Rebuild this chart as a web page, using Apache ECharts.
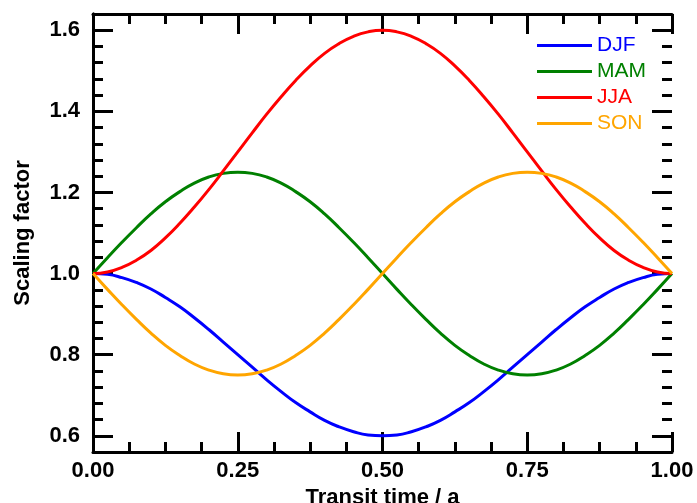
<!DOCTYPE html>
<html>
<head>
<meta charset="utf-8">
<script src="https://cdn.jsdelivr.net/npm/echarts@6/dist/echarts.min.js"></script>
<style>
  html, body { margin: 0; padding: 0; background: #fff; }
  #chart-container { width: 697px; height: 503px; }
</style>
</head>
<body>
<div id="chart-container"></div>
<script>
// transit time (a), read every 0.025
var transitTime = [0.000, 0.025, 0.050, 0.075, 0.100, 0.125, 0.150, 0.175, 0.200, 0.225,
                   0.250, 0.275, 0.300, 0.325, 0.350, 0.375, 0.400, 0.425, 0.450, 0.475,
                   0.500, 0.525, 0.550, 0.575, 0.600, 0.625, 0.650, 0.675, 0.700, 0.725,
                   0.750, 0.775, 0.800, 0.825, 0.850, 0.875, 0.900, 0.925, 0.950, 0.975, 1.000];
var djf = [1.000, 0.998, 0.990, 0.978, 0.962, 0.941, 0.918, 0.891, 0.862, 0.831,
           0.800, 0.769, 0.738, 0.709, 0.682, 0.659, 0.638, 0.622, 0.610, 0.602,
           0.600, 0.602, 0.610, 0.622, 0.638, 0.659, 0.682, 0.709, 0.738, 0.769,
           0.800, 0.831, 0.862, 0.891, 0.918, 0.941, 0.962, 0.978, 0.990, 0.998, 1.000];
var mam = [1.000, 1.039, 1.077, 1.113, 1.147, 1.177, 1.202, 1.223, 1.238, 1.247,
           1.250, 1.247, 1.238, 1.223, 1.202, 1.177, 1.147, 1.113, 1.077, 1.039,
           1.000, 0.961, 0.923, 0.887, 0.853, 0.823, 0.798, 0.777, 0.762, 0.753,
           0.750, 0.753, 0.762, 0.777, 0.798, 0.823, 0.853, 0.887, 0.923, 0.961, 1.000];
var jja = [1.000, 1.004, 1.015, 1.033, 1.057, 1.088, 1.124, 1.164, 1.207, 1.253,
           1.300, 1.347, 1.393, 1.436, 1.476, 1.512, 1.543, 1.567, 1.585, 1.596,
           1.600, 1.596, 1.585, 1.567, 1.543, 1.512, 1.476, 1.436, 1.393, 1.347,
           1.300, 1.253, 1.207, 1.164, 1.124, 1.088, 1.057, 1.033, 1.015, 1.004, 1.000];
var son = [1.000, 0.961, 0.923, 0.887, 0.853, 0.823, 0.798, 0.777, 0.762, 0.753,
           0.750, 0.753, 0.762, 0.777, 0.798, 0.823, 0.853, 0.887, 0.923, 0.961,
           1.000, 1.039, 1.077, 1.113, 1.147, 1.177, 1.202, 1.223, 1.238, 1.247,
           1.250, 1.247, 1.238, 1.223, 1.202, 1.177, 1.147, 1.113, 1.077, 1.039, 1.000];
var seriesNames = ['DJF', 'MAM', 'JJA', 'SON'];
var seriesColors = ['#0000ff', '#008000', '#ff0000', '#ffa500'];

(function () {
    var domChart = document.getElementById('chart-container');
    var ioChart = echarts.init(domChart, null, { renderer: 'canvas' });
    var fontFamily = '"Liberation Sans", Arial, Helvetica, sans-serif';

    // plot frame in px; the y range runs 0.56..1.64, ticks live on 0.6..1.6
    var gLeft = 93, gRight = 25, gTop = 14, gBottom = 51;
    var yPad = 0.04 / 1.08 * (503 - gTop - gBottom);

    function pairs(ys) {
        var out = [];
        for (var i = 0; i < transitTime.length; i++) {
            out.push([transitTime[i], ys[i]]);
        }
        return out;
    }

    var blackLine = { color: '#000', width: 3 };
    var labelStyle = { fontSize: 22, fontWeight: 'bold', color: '#000', fontFamily: fontFamily };

    function xAxisDef(pos, showLabel) {
        return {
            type: 'value',
            gridIndex: 0,
            position: pos,
            min: 0,
            max: 1,
            interval: 0.25,
            name: showLabel ? 'Transit time / a' : '',
            nameLocation: 'middle',
            nameGap: 31,
            nameTextStyle: labelStyle,
            axisLine: { show: true, lineStyle: blackLine },
            axisTick: { show: true, inside: true, length: 20, lineStyle: blackLine },
            minorTick: { show: true, splitNumber: 4, length: 10, lineStyle: blackLine },
            splitLine: { show: false },
            minorSplitLine: { show: false },
            axisLabel: Object.assign({
                show: showLabel,
                margin: 8,
                formatter: function (v) { return v.toFixed(2); }
            }, labelStyle)
        };
    }

    // frame only (full data range)
    function yFrameDef(pos) {
        return {
            type: 'value',
            gridIndex: 0,
            position: pos,
            min: 0.56,
            max: 1.64,
            interval: 0.04,
            axisLine: { show: true, lineStyle: blackLine },
            axisTick: { show: false },
            axisLabel: { show: false },
            splitLine: { show: false }
        };
    }

    // ticks and labels, on an inner grid spanning 0.6..1.6
    function yTickDef(pos, showLabel) {
        return {
            type: 'value',
            gridIndex: 1,
            position: pos,
            min: 0.6,
            max: 1.6,
            interval: 0.2,
            name: showLabel ? 'Scaling factor' : '',
            nameLocation: 'middle',
            nameGap: 59,
            nameTextStyle: labelStyle,
            axisLine: { show: false },
            axisTick: { show: true, inside: true, length: 20, lineStyle: blackLine },
            minorTick: { show: true, splitNumber: 5, length: 10, lineStyle: blackLine },
            splitLine: { show: false },
            minorSplitLine: { show: false },
            axisLabel: Object.assign({
                show: showLabel,
                margin: 13,
                formatter: function (v) { return v.toFixed(1); }
            }, labelStyle)
        };
    }

    var ys = [djf, mam, jja, son];
    var _seriesData = [];
    for (var k = 0; k < ys.length; k++) {
        _seriesData.push({
            name: seriesNames[k],
            type: 'line',
            xAxisIndex: 0,
            yAxisIndex: 0,
            smooth: true,
            showSymbol: false,
            symbol: 'none',
            lineStyle: { width: 3, color: seriesColors[k] },
            itemStyle: { color: seriesColors[k] },
            data: pairs(ys[k])
        });
    }

    var legendData = seriesNames.map(function (n, i) {
        return { name: n, textStyle: { color: seriesColors[i] } };
    });

    var chartOption = {
        backgroundColor: '#fff',
        animation: false,
        grid: [
            { left: gLeft, right: gRight, top: gTop, bottom: gBottom, containLabel: false, outerBoundsMode: 'none' },
            { left: gLeft, right: gRight, top: gTop + yPad, bottom: gBottom + yPad, containLabel: false, outerBoundsMode: 'none' }
        ],
        legend: {
            orient: 'vertical',
            left: 537,
            top: 35,
            padding: 0,
            itemWidth: 55,
            itemHeight: 3,
            itemGap: 5,
            icon: 'rect',
            textStyle: { fontSize: 21, lineHeight: 21, fontFamily: fontFamily },
            data: legendData
        },
        xAxis: [
            xAxisDef('bottom', true),
            xAxisDef('top', false),
            { type: 'value', gridIndex: 1, min: 0, max: 1, show: false }
        ],
        yAxis: [yFrameDef('left'), yFrameDef('right'), yTickDef('left', true), yTickDef('right', false)],
        series: _seriesData
    };
    ioChart.setOption(chartOption);
})();
</script>
</body>
</html>
